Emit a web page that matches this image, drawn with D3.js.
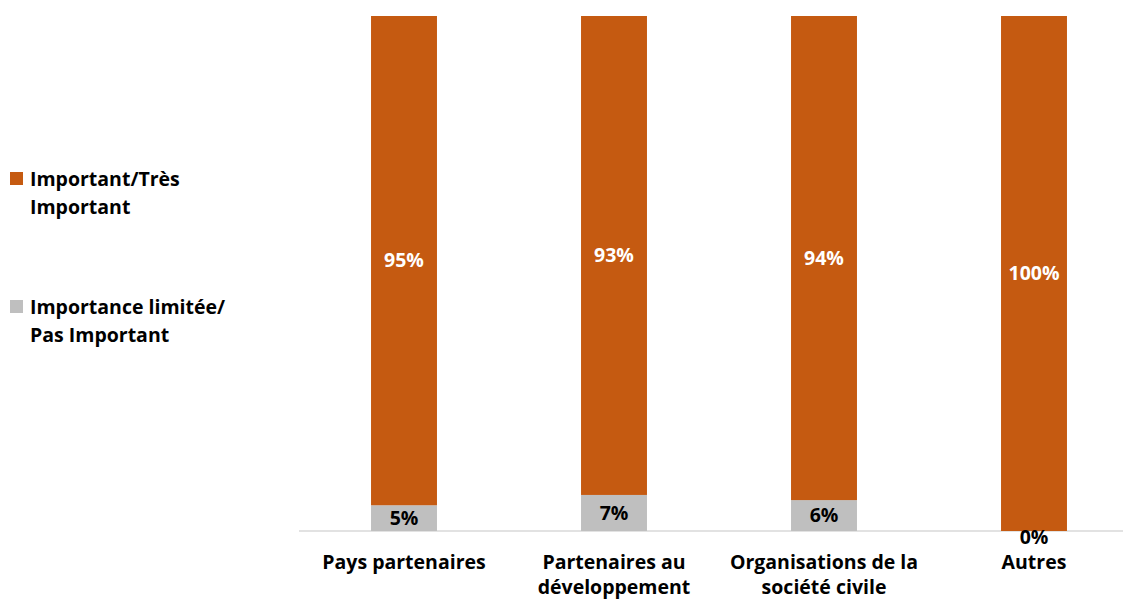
<!DOCTYPE html>
<html>
<head>
<meta charset="utf-8">
<script src="https://cdn.jsdelivr.net/npm/d3@7"></script>
<style>
  body { margin: 0; background: #fff; }
  text { font-family: "Open Sans", Lato, sans-serif; font-weight: bold; }
</style>
</head>
<body>
<div id="chart"></div>
<script>
//Data
const categories = [["Pays partenaires"], ["Partenaires au", "développement"], ["Organisations de la", "société civile"], ["Autres"]];
const important = [95, 93, 94, 100];
const limited = [5, 7, 6, 0];
const seriesNames = [["Important/Très", "Important"], ["Importance limitée/", "Pas Important"]];
const colors = ["#C55A11", "#BFBFBF"];

//Layout
let width = 1123, height = 601,
    margin = {top: 16, left: 299, right: -16, bottom: 70};

let svg = d3.select("#chart").append("svg")
  .attr("width", width)
  .attr("height", height);

let x = d3.scaleBand()
  .domain(d3.range(categories.length))
  .range([margin.left, width - margin.right])
  .paddingInner(0.686)
  .paddingOuter(0.343);

let y = d3.scaleLinear()
  .domain([0, 100])
  .range([height - margin.bottom, margin.top]);

//Axis line
svg.append("line")
  .attr("x1", margin.left).attr("x2", width)
  .attr("y1", y(0)).attr("y2", y(0))
  .attr("stroke", "#D9D9D9").attr("stroke-width", 1.5);

//Stacked bars: limited at bottom, important on top
let g = svg.selectAll(".cat")
  .data(categories)
  .enter().append("g")
    .attr("class", "cat");

g.append("rect")
  .attr("x", (d, i) => x(i))
  .attr("width", x.bandwidth())
  .attr("y", (d, i) => y(limited[i]))
  .attr("height", (d, i) => y(0) - y(limited[i]))
  .attr("fill", colors[1]);

g.append("rect")
  .attr("x", (d, i) => x(i))
  .attr("width", x.bandwidth())
  .attr("y", (d, i) => y(limited[i] + important[i]))
  .attr("height", (d, i) => y(limited[i]) - y(limited[i] + important[i]))
  .attr("fill", colors[0]);

//Value labels
g.append("text")
  .attr("x", (d, i) => x(i) + x.bandwidth() / 2)
  .attr("y", (d, i) => (y(limited[i]) + y(limited[i] + important[i])) / 2)
  .attr("dy", "0.35em")
  .attr("text-anchor", "middle")
  .attr("fill", "#fff")
  .style("font-size", "19.5px")
  .text((d, i) => important[i] + "%");

g.append("text")
  .attr("x", (d, i) => x(i) + x.bandwidth() / 2)
  .attr("y", (d, i) => (y(0) + y(limited[i])) / 2 + (limited[i] ? 0 : 6))
  .attr("dy", "0.35em")
  .attr("text-anchor", "middle")
  .attr("fill", "#000")
  .style("font-size", "19.5px")
  .text((d, i) => limited[i] + "%");

//Category labels
g.append("text")
  .attr("x", (d, i) => x(i) + x.bandwidth() / 2)
  .attr("y", y(0) + 38)
  .attr("text-anchor", "middle")
  .attr("fill", "#000")
  .style("font-size", "19.5px")
  .selectAll("tspan")
  .data(d => d)
  .enter().append("tspan")
    .attr("x", function() { return this.parentNode.getAttribute("x"); })
    .attr("dy", (d, j) => j ? 25 : 0)
    .text(d => d);

//Legend
let legend = svg.selectAll(".legend")
  .data(seriesNames)
  .enter().append("g")
    .attr("class", "legend")
    .attr("transform", (d, i) => "translate(10," + (172 + i * 128) + ")");

legend.append("rect")
  .attr("width", 13).attr("height", 13)
  .attr("fill", (d, i) => colors[i]);

legend.append("text")
  .attr("x", 20)
  .attr("y", 14)
  .attr("fill", "#000")
  .style("font-size", "19.5px")
  .selectAll("tspan")
  .data(d => d)
  .enter().append("tspan")
    .attr("x", 20)
    .attr("dy", (d, j) => j ? 28 : 0)
    .text(d => d);
</script>
</body>
</html>
